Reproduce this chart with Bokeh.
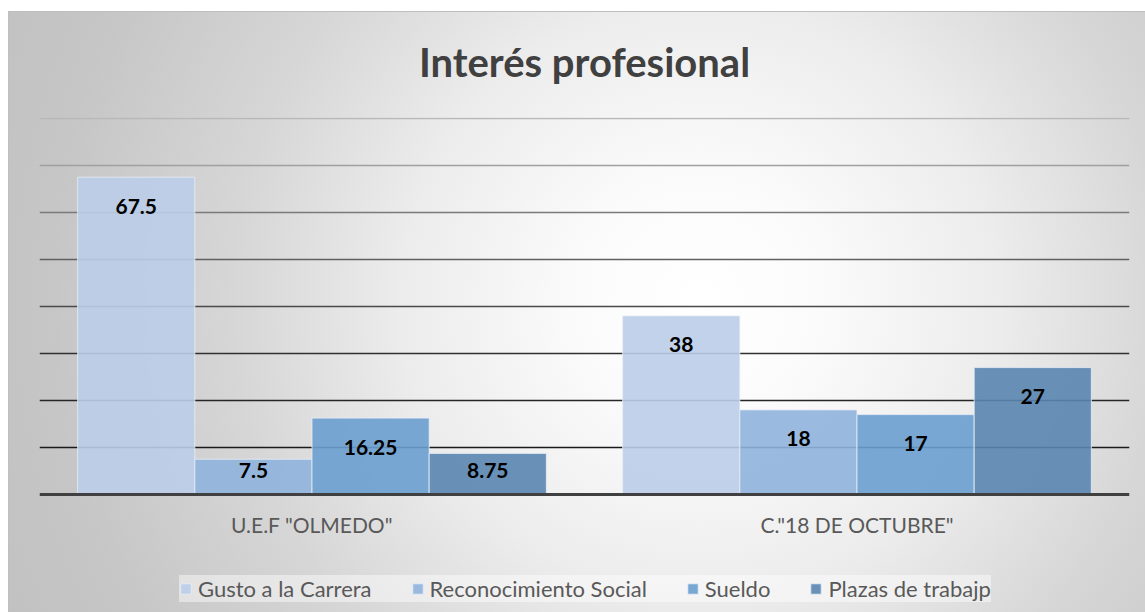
from bokeh.plotting import figure
from bokeh.models import (FactorRange, ColumnDataSource, LabelSet, Legend, LegendItem,
                          Grid, FixedTicker, InlineStyleSheet)
from bokeh.transform import dodge
from bokeh.embed import file_html
from bokeh.resources import INLINE
from bokeh.core.properties import value
import numpy as np

# ---- data ----
categories = ['U.E.F "OLMEDO"', 'C."18 DE OCTUBRE"']
series_names = ["Gusto a la Carrera", "Reconocimiento Social", "Sueldo", "Plazas de trabajp"]
gusto = [67.5, 38]
reconocimiento = [7.5, 18]
sueldo = [16.25, 17]
plazas = [8.75, 27]
y_ticks = [10, 20, 30, 40, 50, 60, 70, 80]
title_text = "Interés profesional"

series_values = [gusto, reconocimiento, sueldo, plazas]
colors = ["#bacde8", "#8fb3dc", "#6a9fcf", "#5a86b0"]
grid_colors = ["#1a1a1a", "#262626", "#303030", "#4a4a4a", "#606060", "#7a7a7a", "#a0a0a0", "#b8b8b8"]

FONT = "Lato"

css = InlineStyleSheet(css="""
:host {
  background:
    linear-gradient(#ffffff, #ffffff) 0 0 / 100% 11px no-repeat,
    linear-gradient(#ffffff, #ffffff) 0 0 / 8px 100% no-repeat,
    linear-gradient(#bfbfbf, #bfbfbf) 8px 11px / 100% 1px no-repeat,
    linear-gradient(#bfbfbf, #bfbfbf) 8px 11px / 1px 100% no-repeat,
    radial-gradient(circle at 700px 300px, #ffffff 0px, #fbfbfb 120px, #ececec 300px, #d6d6d6 470px, #c6c6c6 650px, #c0c0c0 800px);
}
""")

# frame spans from the top gridline down to the bottom of the chart; value 0 sits at the baseline
p = figure(frame_width=1090, frame_height=495, x_range=FactorRange(*categories), y_range=(-25.1, 80.2),
           output_backend="svg", toolbar_location=None,
           min_border_left=39, min_border_right=16, min_border_top=117, min_border_bottom=0)
p.stylesheets = [css]
p.border_fill_color = None
p.background_fill_color = None
p.outline_line_color = None
p.x_range.range_padding = 0

p.title.text = title_text
p.title.align = "center"
p.title.text_font = FONT
p.title.text_font_size = "40px"
p.title.text_font_style = "bold"
p.title.text_color = "#404040"
p.title.standoff = 63

p.xgrid.visible = False
p.ygrid.visible = False
p.yaxis.visible = False

for t, c in zip(y_ticks, grid_colors):
    g = Grid(dimension=1, ticker=FixedTicker(ticks=[t]), grid_line_color=c, grid_line_width=1.6)
    p.add_layout(g)

src = ColumnDataSource(dict(cat=categories, **{f"s{i}": v for i, v in enumerate(series_values)}))

w = 0.215
items = []
for i, (name, vals, col) in enumerate(zip(series_names, series_values, colors)):
    off = (i - 1.5) * w
    r = p.vbar(x=dodge("cat", off, range=p.x_range), top=f"s{i}", bottom=0, width=w, source=src,
               fill_color=col, fill_alpha=0.9, line_color="#e8eef6", line_alpha=0.8, line_width=1)
    items.append(LegendItem(label=name, renderers=[r]))
    v = np.array(vals, dtype=float)
    lsrc = ColumnDataSource(dict(cat=categories, y=np.maximum(v - 6.15, 5.1),
                                 txt=[f"{x:g}" for x in vals]))
    p.add_layout(LabelSet(x=dodge("cat", off, range=p.x_range), y="y", text="txt", source=lsrc,
                          text_align="center", text_baseline="middle", text_font=value(FONT),
                          text_font_size="21px", text_font_style="bold", text_color="#000000"))

ax = p.xaxis[0]
ax.fixed_location = 0
ax.axis_line_color = "#404040"
ax.axis_line_width = 3
ax.major_tick_line_color = None
ax.minor_tick_line_color = None
ax.major_label_text_font = FONT
ax.major_label_text_font_size = "21px"
ax.major_label_text_color = "#595959"
ax.major_label_standoff = 11

legend = Legend(items=items, orientation="horizontal", location=(140, 10),
                label_text_font=FONT, label_text_font_size="22px", label_text_color="#595959",
                glyph_width=13, glyph_height=13, label_standoff=6, spacing=39,
                padding=10, margin=0, label_height=24,
                background_fill_color="#ffffff", background_fill_alpha=0.45,
                border_line_color=None)
p.add_layout(legend, "center")

open("out.html", "w").write(file_html(p, INLINE))
